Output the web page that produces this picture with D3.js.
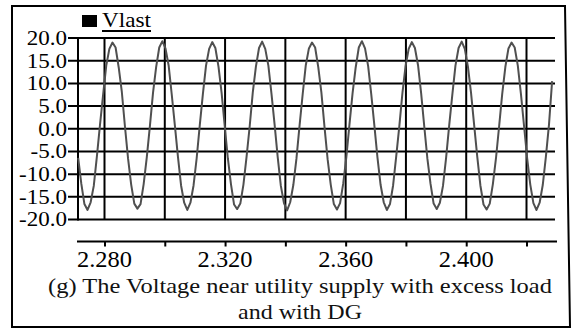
<!DOCTYPE html>
<html><head><meta charset="utf-8">
<script src="https://cdn.jsdelivr.net/npm/d3@7"></script>
<style>html,body{margin:0;padding:0;background:#fff;}svg{display:block;} text{font-family:"Liberation Serif","Times New Roman",Times,serif;}</style>
</head><body>
<svg id="c" width="573" height="329"></svg>
<script>
// ---- data ----
const seriesName = "Vlast";
const yTicks = [20, 15, 10, 5, 0, -5, -10, -15, -20];
const xTicks = [2.28, 2.30, 2.32, 2.34, 2.36, 2.38, 2.40, 2.42];
const xLabelTicks = [2.28, 2.32, 2.36, 2.40];
const captionLines = ["(g) The Voltage near utility supply with excess load", "and with DG"];
const sampleStart = 2.27127;   // s
const sampleStep = 0.00103438; // s
const vlast = [
 -6.4, -12.1, -16.6, -17.9, -16.2, -12.6, -6.1, 0.9, 7.5, 13.9, 17.6, 19.0, 17.9, 13.5, 8.1, 0.5,
 -6.6, -12.3, -16.5, -17.6, -16.6, -12.2, -6.3, 0.6, 7.9, 13.6, 17.9, 19.3, 17.7, 14.0, 7.6, 0.8,
 -6.2, -12.5, -16.3, -17.9, -16.3, -12.5, -6.5, 0.8, 7.7, 13.9, 17.6, 19.1, 17.8, 13.7, 7.9, 0.6,
 -6.5, -12.2, -16.7, -17.7, -16.5, -12.3, -6.2, 0.5, 8.0, 13.7, 17.8, 19.2, 17.6, 13.9, 7.7, 0.9,
 -6.3, -12.6, -16.4, -18.0, -16.2, -12.4, -6.6, 0.7, 7.6, 14.0, 17.7, 19.0, 17.9, 13.6, 8.0, 0.4,
 -6.7, -12.3, -16.6, -17.8, -16.4, -12.1, -6.3, 0.9, 7.8, 13.5, 17.9, 19.3, 17.7, 13.8, 7.6, 0.7,
 -6.4, -12.4, -16.2, -17.9, -16.6, -12.5, -6.1, 0.6, 7.9, 13.8, 17.6, 19.1, 17.8, 14.0, 7.8, 0.5,
 -6.6, -12.1, -16.5, -17.7, -16.3, -12.6, -6.4, 0.8, 7.5, 13.9, 17.8, 19.2, 17.6, 13.7, 7.9, 0.8,
 -6.2, -12.5, -16.7, -17.8, -16.5, -12.2, -6.5, 0.5, 7.7, 13.6, 17.7, 19.0, 17.9, 13.9, 7.7, 0.6,
 -6.5, -12.3, -16.4, -17.9, -16.3, -12.4, -6.2, 0.9, 10.5
];

// ---- drawing ----
const svg = d3.select("#c");
const x = d3.scaleLinear().domain([2.28, 2.42]).range([104.5, 526.5]);
const y = d3.scaleLinear().domain([-20, 20]).range([219.5, 38]);
const plotLeft = 78, plotRight = 555;

function fitText(sel, targetW, anchorX) {
  sel.each(function() {
    const w = this.getComputedTextLength();
    const s = targetW / w;
    const ax = anchorX != null ? anchorX : +this.getAttribute("x");
    d3.select(this).attr("transform", `translate(${ax},0) scale(${s},1) translate(${-ax},0)`);
  });
}

// outer frame
svg.append("path")
  .attr("d", "M12,6 L565,6 L570,327 L12,327 Z")
  .attr("fill", "none").attr("stroke", "#000").attr("stroke-width", 2);

// horizontal grid lines
svg.append("g").selectAll("line").data(yTicks).join("line")
  .attr("x1", plotLeft - 10).attr("x2", plotRight)
  .attr("y1", d => y(d)).attr("y2", d => y(d))
  .attr("stroke", "#000").attr("stroke-width", 2);

// vertical grid lines
svg.append("g").selectAll("line").data(xTicks).join("line")
  .attr("x1", d => x(d)).attr("x2", d => x(d))
  .attr("y1", y(20)).attr("y2", y(-20))
  .attr("stroke", "#000").attr("stroke-width", 2);

// y axis line
svg.append("line").attr("x1", plotLeft).attr("x2", plotLeft)
  .attr("y1", y(20) - 1).attr("y2", y(-20) + 1)
  .attr("stroke", "#000").attr("stroke-width", 2);

// waveform
const pts = vlast.map((v, i) => [sampleStart + i * sampleStep, v]);
const line = d3.line().x(d => x(d[0])).y(d => y(d[1]));
svg.append("path").datum(pts).attr("d", line)
  .attr("fill", "none").attr("stroke", "#505050").attr("stroke-width", 2)
  .attr("stroke-linejoin", "round");

// y labels
const yl = svg.append("g").selectAll("text").data(yTicks).join("text")
  .attr("x", 67).attr("y", d => y(d) + 7)
  .attr("text-anchor", "end")
  .attr("font-size", 21.5)
  .text(d => d.toFixed(1));
let ys = 1;
yl.each(function(d){ if (d === -20) ys = 48 / this.getComputedTextLength(); });
yl.attr("transform", `translate(67,0) scale(${ys},1) translate(-67,0)`);

// x axis
const xa = svg.append("g").attr("transform", "translate(0,241.5)")
  .call(d3.axisBottom(x).tickValues(xTicks).tickSize(5).tickFormat(""));
xa.select(".domain").attr("d", "M77,0H557").attr("stroke", "#000").attr("stroke-width", 2);
xa.selectAll(".tick line").attr("stroke", "#000").attr("stroke-width", 2);

const xl = svg.append("g").selectAll("text").data(xLabelTicks).join("text")
  .attr("x", d => x(d)).attr("y", 267)
  .attr("text-anchor", "middle")
  .attr("font-size", 23.5)
  .text(d => d.toFixed(3));
xl.each(function(d){ fitText(d3.select(this), 55, x(d)); });

// legend
svg.append("rect").attr("x", 82).attr("y", 15).attr("width", 15).attr("height", 12).attr("fill", "#000");
const lt = svg.append("text").attr("x", 102).attr("y", 27.5)
  .attr("font-size", 20).text(seriesName);
fitText(lt, 49, 102);
svg.append("line").attr("x1", 102).attr("x2", 151).attr("y1", 31).attr("y2", 31)
  .attr("stroke", "#000").attr("stroke-width", 2);

// caption
const capW = [504, 124];
captionLines.forEach((t, i) => {
  const el = svg.append("text").attr("x", 300).attr("y", 293 + i * 26)
    .attr("text-anchor", "middle")
    .attr("font-size", 22).attr("fill", "#111").text(t);
  fitText(el, capW[i], 300);
});
</script>
</body></html>
